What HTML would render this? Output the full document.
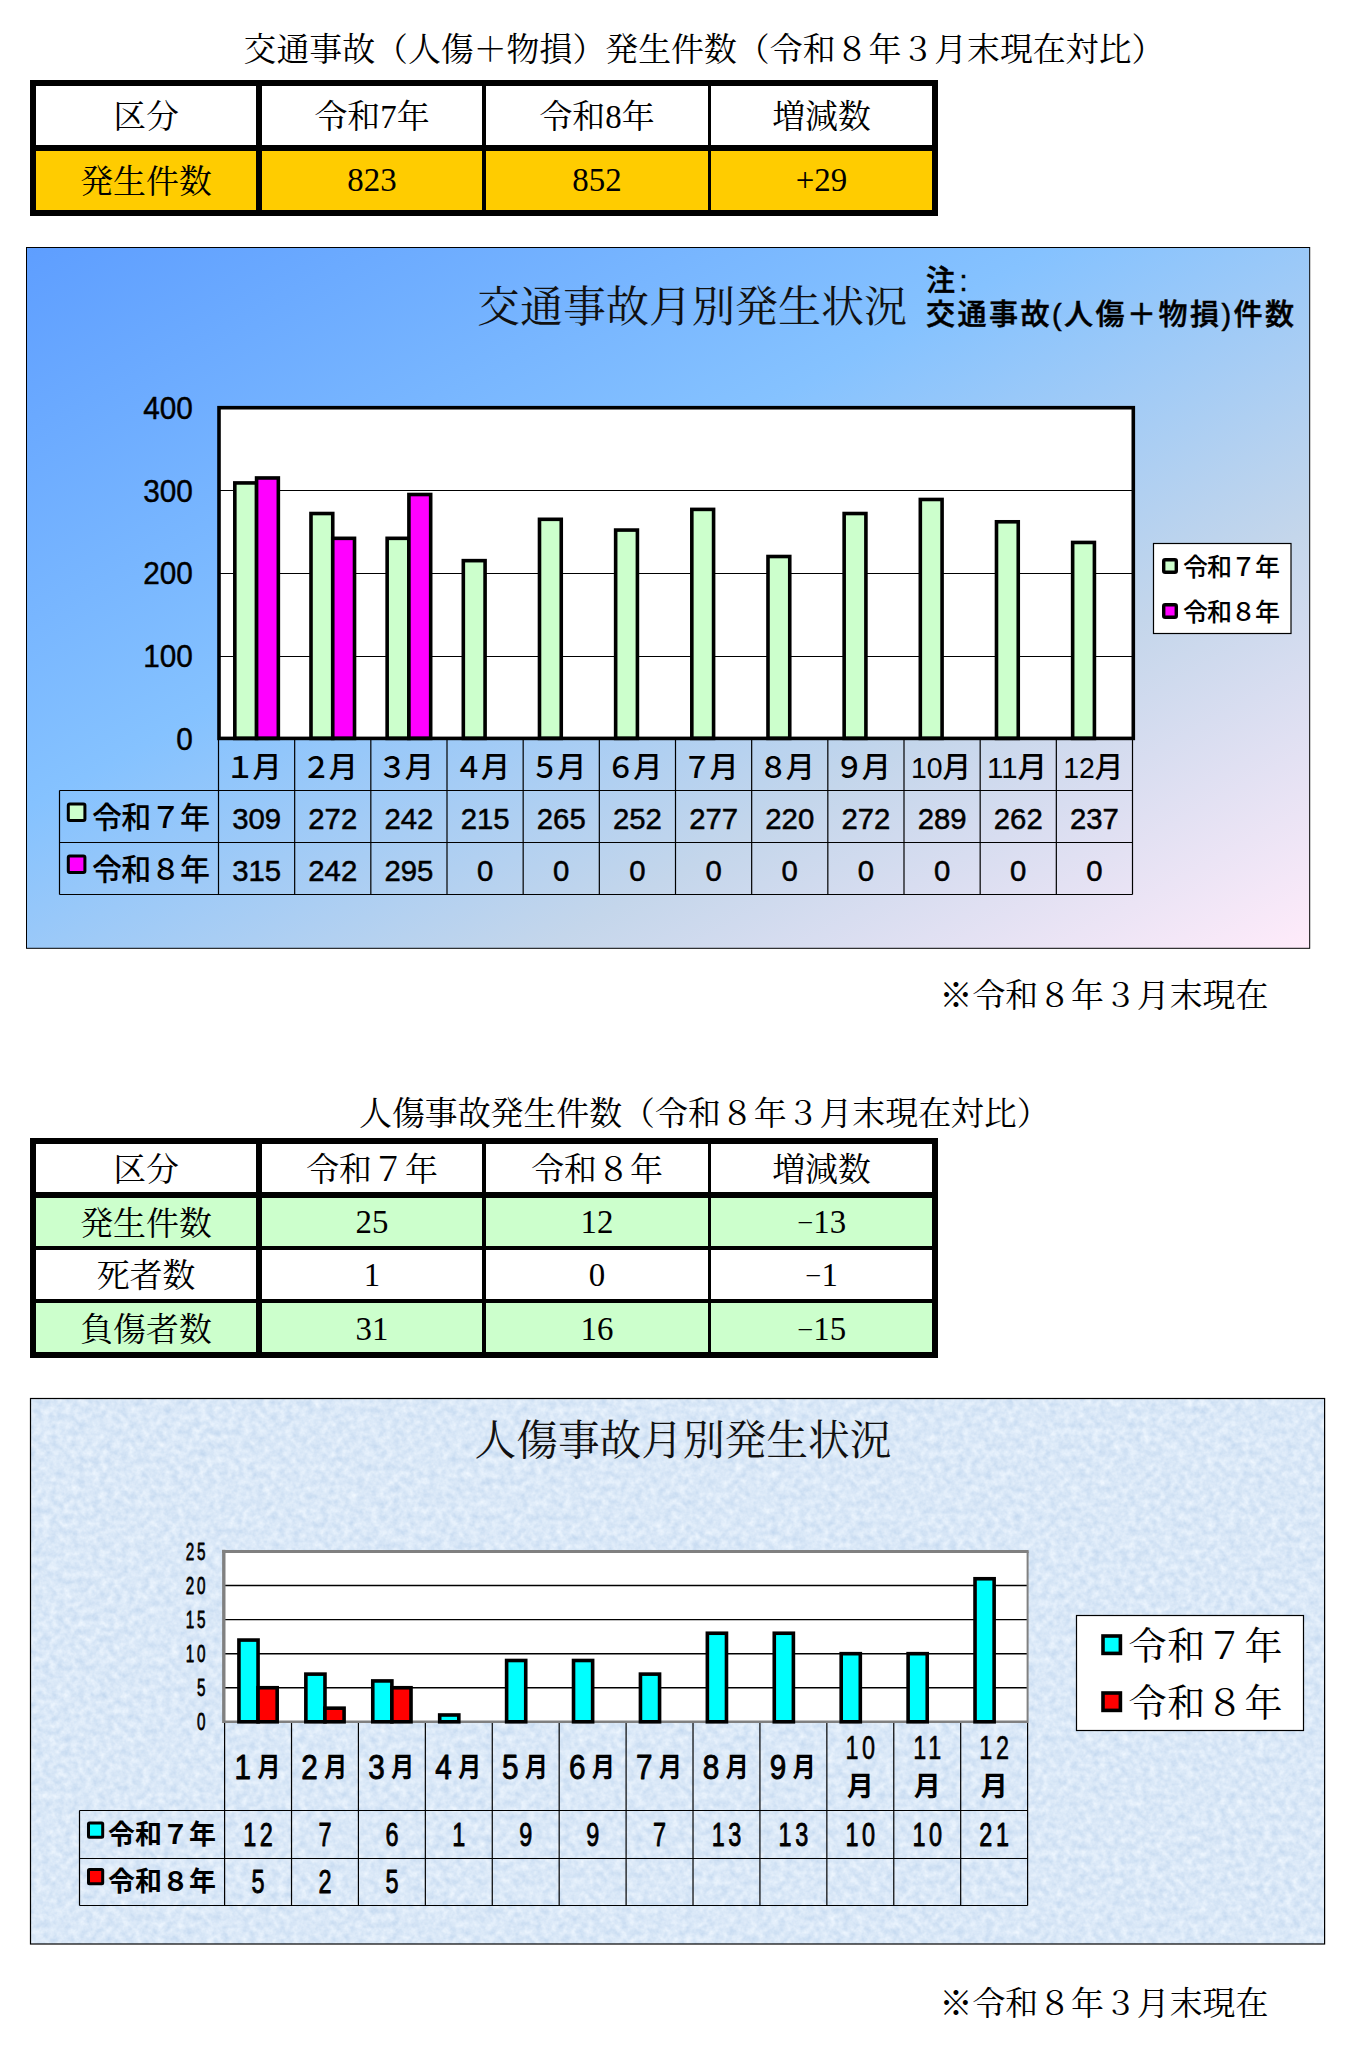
<!DOCTYPE html>
<html lang="ja"><head><meta charset="utf-8">
<title>交通事故発生状況</title>
<style>
html,body{margin:0;padding:0;background:#fff;}
body{width:1358px;height:2049px;position:relative;overflow:hidden;}
.min{font-family:"Liberation Serif","Noto Serif CJK SC",serif;}
.got{font-family:"Liberation Sans","Noto Sans CJK JP",sans-serif;}
.ttl{position:absolute;white-space:nowrap;color:#000;font-family:"Liberation Serif","Noto Serif CJK SC",serif;font-size:32.9px;line-height:40px;}
table.t{position:absolute;border-collapse:separate;border-spacing:0;table-layout:fixed;font-family:"Liberation Serif","Noto Serif CJK SC",serif;font-size:32.9px;color:#000;}
table.t td{box-sizing:border-box;padding:0;text-align:center;vertical-align:middle;border:0 solid #000;line-height:40px;overflow:hidden;white-space:nowrap;}
svg{position:absolute;left:0;top:0;}
svg text{white-space:pre;}
.mn{display:inline-block;width:16.4px;text-align:center;transform:translateY(-1.5px) scale(1.55,0.6);}
</style></head><body>
<div class="ttl" style="left:243.5px;top:29.5px;">交通事故（人傷＋物損）発生件数（令和８年３月末現在対比）</div>
<div class="ttl" style="left:359px;top:1093.5px;">人傷事故発生件数（令和８年３月末現在対比）</div>
<div class="ttl" style="left:939.5px;top:976px;">※令和８年３月末現在</div>
<div class="ttl" style="left:939.5px;top:1984px;">※令和８年３月末現在</div>
<table class="t" style="left:30px;top:80px;width:908px;">
<colgroup>
<col style="width:226px">
<col style="width:226px">
<col style="width:226px">
<col style="width:230px">
</colgroup>
<tr style="height:65px">
<td style="border-width:6px 0px 0px 6px;padding-top:3px;">区分</td>
<td style="border-width:6px 0px 0px 6px;padding-top:3px;">令和7年</td>
<td style="border-width:6px 0px 0px 4px;padding-top:3px;">令和8年</td>
<td style="border-width:6px 6px 0px 3px;padding-top:3px;">増減数</td>
</tr>
<tr style="height:71px">
<td style="border-width:6px 0px 6px 6px;background:#ffcc00;padding-top:2.4px;">発生件数</td>
<td style="border-width:6px 0px 6px 6px;background:#ffcc00;padding-bottom:0.6px;">823</td>
<td style="border-width:6px 0px 6px 4px;background:#ffcc00;padding-bottom:0.6px;">852</td>
<td style="border-width:6px 6px 6px 3px;background:#ffcc00;padding-bottom:0.6px;">+29</td>
</tr>
</table>
<table class="t" style="left:30px;top:1138px;width:908px;">
<colgroup>
<col style="width:226px">
<col style="width:226px">
<col style="width:226px">
<col style="width:230px">
</colgroup>
<tr style="height:54px">
<td style="border-width:6px 0px 0px 6px;padding-top:3.6px;">区分</td>
<td style="border-width:6px 0px 0px 6px;padding-top:3.6px;">令和７年</td>
<td style="border-width:6px 0px 0px 4px;padding-top:3.6px;">令和８年</td>
<td style="border-width:6px 6px 0px 3px;padding-top:3.6px;">増減数</td>
</tr>
<tr style="height:54px">
<td style="border-width:6px 0px 0px 6px;background:#ccffcc;padding-top:3px;">発生件数</td>
<td style="border-width:6px 0px 0px 6px;background:#ccffcc;">25</td>
<td style="border-width:6px 0px 0px 4px;background:#ccffcc;">12</td>
<td style="border-width:6px 6px 0px 3px;background:#ccffcc;"><span class="mn">-</span>13</td>
</tr>
<tr style="height:52.5px">
<td style="border-width:4px 0px 0px 6px;padding-top:3.8px;">死者数</td>
<td style="border-width:4px 0px 0px 6px;padding-top:0.8px;">1</td>
<td style="border-width:4px 0px 0px 4px;padding-top:0.8px;">0</td>
<td style="border-width:4px 6px 0px 3px;padding-top:0.8px;"><span class="mn">-</span>1</td>
</tr>
<tr style="height:59.5px">
<td style="border-width:4px 0px 6px 6px;background:#ccffcc;padding-top:6px;">負傷者数</td>
<td style="border-width:4px 0px 6px 6px;background:#ccffcc;padding-top:3px;">31</td>
<td style="border-width:4px 0px 6px 4px;background:#ccffcc;padding-top:3px;">16</td>
<td style="border-width:4px 6px 6px 3px;background:#ccffcc;padding-top:3px;"><span class="mn">-</span>15</td>
</tr>
</table>
<svg width="1358" height="2049" viewBox="0 0 1358 2049">
<defs>
<linearGradient id="g1" gradientUnits="userSpaceOnUse" x1="373.3" y1="58.1" x2="962.9" y2="1137.7">
<stop offset="0" stop-color="#5e9eff"/><stop offset="0.4" stop-color="#85c2ff"/><stop offset="0.7" stop-color="#c4d6eb"/><stop offset="1" stop-color="#ffebfa"/></linearGradient>
<filter id="tex" x="0" y="0" width="100%" height="100%" color-interpolation-filters="sRGB"><feTurbulence type="fractalNoise" baseFrequency="0.14" numOctaves="3" seed="7" result="n"/><feColorMatrix in="n" type="matrix" values="0.2 0 0 0 0.755  0.14 0 0 0 0.84  0.07 0 0 0 0.935  0 0 0 0 1"/></filter>
</defs>
<g id="chart1">
<rect x="26.5" y="247.5" width="1283.2" height="700.8" fill="url(#g1)" stroke="#000" stroke-width="1"/>
<text x="692" y="322" font-size="43" font-family='"Liberation Serif","Noto Serif CJK SC",serif' text-anchor="middle" fill="#111">交通事故月別発生状況</text>
<text x="926" y="290.5" font-size="29" font-family='"Liberation Sans","Noto Sans CJK JP",sans-serif' text-anchor="start" font-weight="500" stroke="#000" stroke-width="0.5">注<tspan dx="4.5">:</tspan></text>
<text x="926" y="324.5" font-size="29" font-family='"Liberation Sans","Noto Sans CJK JP",sans-serif' text-anchor="start" font-weight="500" textLength="368" lengthAdjust="spacing" stroke="#000" stroke-width="0.5">交通事故(人傷＋物損)件数</text>
<rect x="219" y="407.7" width="914.3" height="330.7" fill="#fff"/>
<line x1="219" y1="656.5" x2="1133.3" y2="656.5" stroke="#000" stroke-width="1.1"/>
<line x1="219" y1="573.5" x2="1133.3" y2="573.5" stroke="#000" stroke-width="1.1"/>
<line x1="219" y1="490.5" x2="1133.3" y2="490.5" stroke="#000" stroke-width="1.1"/>
<rect x="234.82" y="482.93" width="21.76" height="255.47" fill="#ccffcc" stroke="#000" stroke-width="3.6"/>
<rect x="256.58" y="477.97" width="21.76" height="260.43" fill="#ff00ff" stroke="#000" stroke-width="3.6"/>
<rect x="310.99" y="513.52" width="21.76" height="224.88" fill="#ccffcc" stroke="#000" stroke-width="3.6"/>
<rect x="332.75" y="538.33" width="21.76" height="200.07" fill="#ff00ff" stroke="#000" stroke-width="3.6"/>
<rect x="387.15" y="538.33" width="21.76" height="200.07" fill="#ccffcc" stroke="#000" stroke-width="3.6"/>
<rect x="408.92" y="494.51" width="21.76" height="243.89" fill="#ff00ff" stroke="#000" stroke-width="3.6"/>
<rect x="463.32" y="560.65" width="21.76" height="177.75" fill="#ccffcc" stroke="#000" stroke-width="3.6"/>
<rect x="539.49" y="519.31" width="21.76" height="219.09" fill="#ccffcc" stroke="#000" stroke-width="3.6"/>
<rect x="615.65" y="530.06" width="21.76" height="208.34" fill="#ccffcc" stroke="#000" stroke-width="3.6"/>
<rect x="691.82" y="509.39" width="21.76" height="229.01" fill="#ccffcc" stroke="#000" stroke-width="3.6"/>
<rect x="767.99" y="556.51" width="21.76" height="181.88" fill="#ccffcc" stroke="#000" stroke-width="3.6"/>
<rect x="844.15" y="513.52" width="21.76" height="224.88" fill="#ccffcc" stroke="#000" stroke-width="3.6"/>
<rect x="920.32" y="499.47" width="21.76" height="238.93" fill="#ccffcc" stroke="#000" stroke-width="3.6"/>
<rect x="996.49" y="521.79" width="21.76" height="216.61" fill="#ccffcc" stroke="#000" stroke-width="3.6"/>
<rect x="1072.65" y="542.46" width="21.76" height="195.94" fill="#ccffcc" stroke="#000" stroke-width="3.6"/>
<rect x="219" y="407.7" width="914.3" height="330.7" fill="none" stroke="#000" stroke-width="3.6"/>
<text transform="translate(192.8 749.7) scale(0.93 1)" font-size="32" font-family='"Liberation Sans","Noto Sans CJK JP",sans-serif' text-anchor="end" letter-spacing="0" stroke="#000" stroke-width="0.45" stroke-linejoin="round">0</text>
<text transform="translate(192.8 667.02) scale(0.93 1)" font-size="32" font-family='"Liberation Sans","Noto Sans CJK JP",sans-serif' text-anchor="end" letter-spacing="0" stroke="#000" stroke-width="0.45" stroke-linejoin="round">100</text>
<text transform="translate(192.8 584.35) scale(0.93 1)" font-size="32" font-family='"Liberation Sans","Noto Sans CJK JP",sans-serif' text-anchor="end" letter-spacing="0" stroke="#000" stroke-width="0.45" stroke-linejoin="round">200</text>
<text transform="translate(192.8 501.68) scale(0.93 1)" font-size="32" font-family='"Liberation Sans","Noto Sans CJK JP",sans-serif' text-anchor="end" letter-spacing="0" stroke="#000" stroke-width="0.45" stroke-linejoin="round">300</text>
<text transform="translate(192.8 419) scale(0.93 1)" font-size="32" font-family='"Liberation Sans","Noto Sans CJK JP",sans-serif' text-anchor="end" letter-spacing="0" stroke="#000" stroke-width="0.45" stroke-linejoin="round">400</text>
<line x1="218.5" y1="740" x2="218.5" y2="894.5" stroke="#000" stroke-width="1.2"/>
<line x1="294.67" y1="740" x2="294.67" y2="894.5" stroke="#000" stroke-width="1.2"/>
<line x1="370.83" y1="740" x2="370.83" y2="894.5" stroke="#000" stroke-width="1.2"/>
<line x1="447" y1="740" x2="447" y2="894.5" stroke="#000" stroke-width="1.2"/>
<line x1="523.17" y1="740" x2="523.17" y2="894.5" stroke="#000" stroke-width="1.2"/>
<line x1="599.33" y1="740" x2="599.33" y2="894.5" stroke="#000" stroke-width="1.2"/>
<line x1="675.5" y1="740" x2="675.5" y2="894.5" stroke="#000" stroke-width="1.2"/>
<line x1="751.67" y1="740" x2="751.67" y2="894.5" stroke="#000" stroke-width="1.2"/>
<line x1="827.83" y1="740" x2="827.83" y2="894.5" stroke="#000" stroke-width="1.2"/>
<line x1="904" y1="740" x2="904" y2="894.5" stroke="#000" stroke-width="1.2"/>
<line x1="980.17" y1="740" x2="980.17" y2="894.5" stroke="#000" stroke-width="1.2"/>
<line x1="1056.33" y1="740" x2="1056.33" y2="894.5" stroke="#000" stroke-width="1.2"/>
<line x1="1132.5" y1="740" x2="1132.5" y2="894.5" stroke="#000" stroke-width="1.2"/>
<line x1="59.5" y1="790.5" x2="1132.5" y2="790.5" stroke="#000" stroke-width="1.2"/>
<line x1="59.5" y1="842.5" x2="1132.5" y2="842.5" stroke="#000" stroke-width="1.2"/>
<line x1="59.5" y1="894.5" x2="1132.5" y2="894.5" stroke="#000" stroke-width="1.2"/>
<line x1="59.5" y1="790.5" x2="59.5" y2="894.5" stroke="#000" stroke-width="1.2"/>
<text font-size="29" font-family='"Liberation Sans","Noto Sans CJK JP",sans-serif' font-weight="500" text-anchor="middle"><tspan x="239.98" y="777.7">１</tspan><tspan x="266.98" y="777.7">月</tspan></text>
<text x="256.58" y="828.5" font-size="29.3" font-family='"Liberation Sans","Noto Sans CJK JP",sans-serif' text-anchor="middle" stroke="#000" stroke-width="0.5">309</text>
<text x="256.58" y="880.5" font-size="29.3" font-family='"Liberation Sans","Noto Sans CJK JP",sans-serif' text-anchor="middle" stroke="#000" stroke-width="0.5">315</text>
<text font-size="29" font-family='"Liberation Sans","Noto Sans CJK JP",sans-serif' font-weight="500" text-anchor="middle"><tspan x="316.15" y="777.7">２</tspan><tspan x="343.15" y="777.7">月</tspan></text>
<text x="332.75" y="828.5" font-size="29.3" font-family='"Liberation Sans","Noto Sans CJK JP",sans-serif' text-anchor="middle" stroke="#000" stroke-width="0.5">272</text>
<text x="332.75" y="880.5" font-size="29.3" font-family='"Liberation Sans","Noto Sans CJK JP",sans-serif' text-anchor="middle" stroke="#000" stroke-width="0.5">242</text>
<text font-size="29" font-family='"Liberation Sans","Noto Sans CJK JP",sans-serif' font-weight="500" text-anchor="middle"><tspan x="392.32" y="777.7">３</tspan><tspan x="419.32" y="777.7">月</tspan></text>
<text x="408.92" y="828.5" font-size="29.3" font-family='"Liberation Sans","Noto Sans CJK JP",sans-serif' text-anchor="middle" stroke="#000" stroke-width="0.5">242</text>
<text x="408.92" y="880.5" font-size="29.3" font-family='"Liberation Sans","Noto Sans CJK JP",sans-serif' text-anchor="middle" stroke="#000" stroke-width="0.5">295</text>
<text font-size="29" font-family='"Liberation Sans","Noto Sans CJK JP",sans-serif' font-weight="500" text-anchor="middle"><tspan x="468.48" y="777.7">４</tspan><tspan x="495.48" y="777.7">月</tspan></text>
<text x="485.08" y="828.5" font-size="29.3" font-family='"Liberation Sans","Noto Sans CJK JP",sans-serif' text-anchor="middle" stroke="#000" stroke-width="0.5">215</text>
<text x="485.08" y="880.5" font-size="29.3" font-family='"Liberation Sans","Noto Sans CJK JP",sans-serif' text-anchor="middle" stroke="#000" stroke-width="0.5">0</text>
<text font-size="29" font-family='"Liberation Sans","Noto Sans CJK JP",sans-serif' font-weight="500" text-anchor="middle"><tspan x="544.65" y="777.7">５</tspan><tspan x="571.65" y="777.7">月</tspan></text>
<text x="561.25" y="828.5" font-size="29.3" font-family='"Liberation Sans","Noto Sans CJK JP",sans-serif' text-anchor="middle" stroke="#000" stroke-width="0.5">265</text>
<text x="561.25" y="880.5" font-size="29.3" font-family='"Liberation Sans","Noto Sans CJK JP",sans-serif' text-anchor="middle" stroke="#000" stroke-width="0.5">0</text>
<text font-size="29" font-family='"Liberation Sans","Noto Sans CJK JP",sans-serif' font-weight="500" text-anchor="middle"><tspan x="620.82" y="777.7">６</tspan><tspan x="647.82" y="777.7">月</tspan></text>
<text x="637.42" y="828.5" font-size="29.3" font-family='"Liberation Sans","Noto Sans CJK JP",sans-serif' text-anchor="middle" stroke="#000" stroke-width="0.5">252</text>
<text x="637.42" y="880.5" font-size="29.3" font-family='"Liberation Sans","Noto Sans CJK JP",sans-serif' text-anchor="middle" stroke="#000" stroke-width="0.5">0</text>
<text font-size="29" font-family='"Liberation Sans","Noto Sans CJK JP",sans-serif' font-weight="500" text-anchor="middle"><tspan x="696.98" y="777.7">７</tspan><tspan x="723.98" y="777.7">月</tspan></text>
<text x="713.58" y="828.5" font-size="29.3" font-family='"Liberation Sans","Noto Sans CJK JP",sans-serif' text-anchor="middle" stroke="#000" stroke-width="0.5">277</text>
<text x="713.58" y="880.5" font-size="29.3" font-family='"Liberation Sans","Noto Sans CJK JP",sans-serif' text-anchor="middle" stroke="#000" stroke-width="0.5">0</text>
<text font-size="29" font-family='"Liberation Sans","Noto Sans CJK JP",sans-serif' font-weight="500" text-anchor="middle"><tspan x="773.15" y="777.7">８</tspan><tspan x="800.15" y="777.7">月</tspan></text>
<text x="789.75" y="828.5" font-size="29.3" font-family='"Liberation Sans","Noto Sans CJK JP",sans-serif' text-anchor="middle" stroke="#000" stroke-width="0.5">220</text>
<text x="789.75" y="880.5" font-size="29.3" font-family='"Liberation Sans","Noto Sans CJK JP",sans-serif' text-anchor="middle" stroke="#000" stroke-width="0.5">0</text>
<text font-size="29" font-family='"Liberation Sans","Noto Sans CJK JP",sans-serif' font-weight="500" text-anchor="middle"><tspan x="849.32" y="777.7">９</tspan><tspan x="876.32" y="777.7">月</tspan></text>
<text x="865.92" y="828.5" font-size="29.3" font-family='"Liberation Sans","Noto Sans CJK JP",sans-serif' text-anchor="middle" stroke="#000" stroke-width="0.5">272</text>
<text x="865.92" y="880.5" font-size="29.3" font-family='"Liberation Sans","Noto Sans CJK JP",sans-serif' text-anchor="middle" stroke="#000" stroke-width="0.5">0</text>
<text x="940.88" y="777.7" font-size="29" font-family='"Liberation Sans","Noto Sans CJK JP",sans-serif' text-anchor="middle" font-weight="500" textLength="60" lengthAdjust="spacingAndGlyphs">10月</text>
<text x="942.08" y="828.5" font-size="29.3" font-family='"Liberation Sans","Noto Sans CJK JP",sans-serif' text-anchor="middle" stroke="#000" stroke-width="0.5">289</text>
<text x="942.08" y="880.5" font-size="29.3" font-family='"Liberation Sans","Noto Sans CJK JP",sans-serif' text-anchor="middle" stroke="#000" stroke-width="0.5">0</text>
<text x="1017.05" y="777.7" font-size="29" font-family='"Liberation Sans","Noto Sans CJK JP",sans-serif' text-anchor="middle" font-weight="500" textLength="60" lengthAdjust="spacingAndGlyphs">11月</text>
<text x="1018.25" y="828.5" font-size="29.3" font-family='"Liberation Sans","Noto Sans CJK JP",sans-serif' text-anchor="middle" stroke="#000" stroke-width="0.5">262</text>
<text x="1018.25" y="880.5" font-size="29.3" font-family='"Liberation Sans","Noto Sans CJK JP",sans-serif' text-anchor="middle" stroke="#000" stroke-width="0.5">0</text>
<text x="1093.22" y="777.7" font-size="29" font-family='"Liberation Sans","Noto Sans CJK JP",sans-serif' text-anchor="middle" font-weight="500" textLength="60" lengthAdjust="spacingAndGlyphs">12月</text>
<text x="1094.42" y="828.5" font-size="29.3" font-family='"Liberation Sans","Noto Sans CJK JP",sans-serif' text-anchor="middle" stroke="#000" stroke-width="0.5">237</text>
<text x="1094.42" y="880.5" font-size="29.3" font-family='"Liberation Sans","Noto Sans CJK JP",sans-serif' text-anchor="middle" stroke="#000" stroke-width="0.5">0</text>
<rect x="68.3" y="804" width="16.6" height="16.6" rx="1.5" fill="#ccffcc" stroke="#000" stroke-width="3"/>
<text x="92" y="828" font-size="30" font-family='"Liberation Sans","Noto Sans CJK JP",sans-serif' text-anchor="start" font-weight="500" textLength="118" lengthAdjust="spacing">令和７年</text>
<rect x="68.3" y="856" width="16.6" height="16.6" rx="1.5" fill="#ff00ff" stroke="#000" stroke-width="3"/>
<text x="92" y="880" font-size="30" font-family='"Liberation Sans","Noto Sans CJK JP",sans-serif' text-anchor="start" font-weight="500" textLength="118" lengthAdjust="spacing">令和８年</text>
<rect x="1153.5" y="543.5" width="137.5" height="90" fill="#fff" stroke="#000" stroke-width="1.2"/>
<rect x="1163.7" y="559.7" width="12.6" height="12.6" rx="1.5" fill="#ccffcc" stroke="#000" stroke-width="3.4"/>
<text x="1183" y="575.5" font-size="25" font-family='"Liberation Sans","Noto Sans CJK JP",sans-serif' text-anchor="start" font-weight="500" textLength="97" lengthAdjust="spacing">令和７年</text>
<rect x="1163.7" y="604.7" width="12.6" height="12.6" rx="1.5" fill="#ff00ff" stroke="#000" stroke-width="3.4"/>
<text x="1183" y="620.5" font-size="25" font-family='"Liberation Sans","Noto Sans CJK JP",sans-serif' text-anchor="start" font-weight="500" textLength="97" lengthAdjust="spacing">令和８年</text>
</g>
<g id="chart2">
<rect x="30.5" y="1398.5" width="1294.1" height="545.5" fill="#d5e4f5"/>
<rect x="30.5" y="1398.5" width="1294.1" height="545.5" filter="url(#tex)"/>
<rect x="30.5" y="1398.5" width="1294.1" height="545.5" fill="none" stroke="#000" stroke-width="1.2"/>
<text x="683" y="1455" font-size="41.7" font-family='"Liberation Serif","Noto Serif CJK SC",serif' text-anchor="middle" fill="#111">人傷事故月別発生状況</text>
<rect x="223.8" y="1551.5" width="803.8" height="170.3" fill="#fff"/>
<line x1="223.8" y1="1687.74" x2="1027.6" y2="1687.74" stroke="#000" stroke-width="1.4"/>
<line x1="223.8" y1="1653.68" x2="1027.6" y2="1653.68" stroke="#000" stroke-width="1.4"/>
<line x1="223.8" y1="1619.62" x2="1027.6" y2="1619.62" stroke="#000" stroke-width="1.4"/>
<line x1="223.8" y1="1585.56" x2="1027.6" y2="1585.56" stroke="#000" stroke-width="1.4"/>
<line x1="223.8" y1="1549.8" x2="223.8" y2="1723" stroke="#808080" stroke-width="3.4"/>
<line x1="222.1" y1="1551.5" x2="1028.6" y2="1551.5" stroke="#808080" stroke-width="3"/>
<line x1="1027.6" y1="1551.5" x2="1027.6" y2="1723" stroke="#808080" stroke-width="2"/>
<line x1="223.8" y1="1721.8" x2="1027.6" y2="1721.8" stroke="#808080" stroke-width="2.4"/>
<rect x="238.94" y="1640.06" width="19.12" height="81.74" fill="#00ffff" stroke="#000" stroke-width="3.6"/>
<rect x="258.06" y="1687.74" width="19.12" height="34.06" fill="#ff0000" stroke="#000" stroke-width="3.6"/>
<rect x="305.86" y="1674.12" width="19.12" height="47.68" fill="#00ffff" stroke="#000" stroke-width="3.6"/>
<rect x="324.97" y="1708.18" width="19.12" height="13.62" fill="#ff0000" stroke="#000" stroke-width="3.6"/>
<rect x="372.77" y="1680.93" width="19.12" height="40.87" fill="#00ffff" stroke="#000" stroke-width="3.6"/>
<rect x="391.89" y="1687.74" width="19.12" height="34.06" fill="#ff0000" stroke="#000" stroke-width="3.6"/>
<rect x="439.69" y="1714.99" width="19.12" height="6.81" fill="#00ffff" stroke="#000" stroke-width="3.6"/>
<rect x="506.61" y="1660.49" width="19.12" height="61.31" fill="#00ffff" stroke="#000" stroke-width="3.6"/>
<rect x="573.52" y="1660.49" width="19.12" height="61.31" fill="#00ffff" stroke="#000" stroke-width="3.6"/>
<rect x="640.44" y="1674.12" width="19.12" height="47.68" fill="#00ffff" stroke="#000" stroke-width="3.6"/>
<rect x="707.36" y="1633.24" width="19.12" height="88.56" fill="#00ffff" stroke="#000" stroke-width="3.6"/>
<rect x="774.27" y="1633.24" width="19.12" height="88.56" fill="#00ffff" stroke="#000" stroke-width="3.6"/>
<rect x="841.19" y="1653.68" width="19.12" height="68.12" fill="#00ffff" stroke="#000" stroke-width="3.6"/>
<rect x="908.11" y="1653.68" width="19.12" height="68.12" fill="#00ffff" stroke="#000" stroke-width="3.6"/>
<rect x="975.02" y="1578.75" width="19.12" height="143.05" fill="#00ffff" stroke="#000" stroke-width="3.6"/>
<text transform="translate(208.4 1730.4) scale(0.62 1)" font-size="24.6" font-family='"Liberation Sans","Noto Sans CJK JP",sans-serif' text-anchor="end" letter-spacing="4.68" stroke="#000" stroke-width="0.8" stroke-linejoin="round">0</text>
<text transform="translate(208.4 1696.34) scale(0.62 1)" font-size="24.6" font-family='"Liberation Sans","Noto Sans CJK JP",sans-serif' text-anchor="end" letter-spacing="4.68" stroke="#000" stroke-width="0.8" stroke-linejoin="round">5</text>
<text transform="translate(208.4 1662.28) scale(0.62 1)" font-size="24.6" font-family='"Liberation Sans","Noto Sans CJK JP",sans-serif' text-anchor="end" letter-spacing="4.68" stroke="#000" stroke-width="0.8" stroke-linejoin="round">10</text>
<text transform="translate(208.4 1628.22) scale(0.62 1)" font-size="24.6" font-family='"Liberation Sans","Noto Sans CJK JP",sans-serif' text-anchor="end" letter-spacing="4.68" stroke="#000" stroke-width="0.8" stroke-linejoin="round">15</text>
<text transform="translate(208.4 1594.16) scale(0.62 1)" font-size="24.6" font-family='"Liberation Sans","Noto Sans CJK JP",sans-serif' text-anchor="end" letter-spacing="4.68" stroke="#000" stroke-width="0.8" stroke-linejoin="round">20</text>
<text transform="translate(208.4 1560.1) scale(0.62 1)" font-size="24.6" font-family='"Liberation Sans","Noto Sans CJK JP",sans-serif' text-anchor="end" letter-spacing="4.68" stroke="#000" stroke-width="0.8" stroke-linejoin="round">25</text>
<line x1="224.6" y1="1723" x2="224.6" y2="1905.5" stroke="#000" stroke-width="1.2"/>
<line x1="291.52" y1="1723" x2="291.52" y2="1905.5" stroke="#000" stroke-width="1.2"/>
<line x1="358.43" y1="1723" x2="358.43" y2="1905.5" stroke="#000" stroke-width="1.2"/>
<line x1="425.35" y1="1723" x2="425.35" y2="1905.5" stroke="#000" stroke-width="1.2"/>
<line x1="492.27" y1="1723" x2="492.27" y2="1905.5" stroke="#000" stroke-width="1.2"/>
<line x1="559.18" y1="1723" x2="559.18" y2="1905.5" stroke="#000" stroke-width="1.2"/>
<line x1="626.1" y1="1723" x2="626.1" y2="1905.5" stroke="#000" stroke-width="1.2"/>
<line x1="693.02" y1="1723" x2="693.02" y2="1905.5" stroke="#000" stroke-width="1.2"/>
<line x1="759.93" y1="1723" x2="759.93" y2="1905.5" stroke="#000" stroke-width="1.2"/>
<line x1="826.85" y1="1723" x2="826.85" y2="1905.5" stroke="#000" stroke-width="1.2"/>
<line x1="893.77" y1="1723" x2="893.77" y2="1905.5" stroke="#000" stroke-width="1.2"/>
<line x1="960.68" y1="1723" x2="960.68" y2="1905.5" stroke="#000" stroke-width="1.2"/>
<line x1="1027.6" y1="1723" x2="1027.6" y2="1905.5" stroke="#000" stroke-width="1.2"/>
<line x1="79.5" y1="1810.5" x2="1027.6" y2="1810.5" stroke="#000" stroke-width="1.2"/>
<line x1="79.5" y1="1858.5" x2="1027.6" y2="1858.5" stroke="#000" stroke-width="1.2"/>
<line x1="79.5" y1="1905.5" x2="1027.6" y2="1905.5" stroke="#000" stroke-width="1.2"/>
<line x1="79.5" y1="1810.5" x2="79.5" y2="1905.5" stroke="#000" stroke-width="1.2"/>
<text transform="translate(242.66 1779) scale(0.86 1)" font-size="34.5" font-family='"Liberation Sans","Noto Sans CJK JP",sans-serif' text-anchor="middle" letter-spacing="0" stroke="#000" stroke-width="0.9" stroke-linejoin="round">1</text>
<text transform="translate(268.76 1777.3) scale(0.86 1)" font-size="27" font-family='"Liberation Sans","Noto Sans CJK JP",sans-serif' text-anchor="middle" letter-spacing="0" font-weight="700">月</text>
<text transform="translate(259.86 1845.6) scale(0.7 1)" font-size="33.5" font-family='"Liberation Sans","Noto Sans CJK JP",sans-serif' text-anchor="middle" letter-spacing="5.14" stroke="#000" stroke-width="0.9" stroke-linejoin="round">12</text>
<text transform="translate(259.86 1892.8) scale(0.7 1)" font-size="33.5" font-family='"Liberation Sans","Noto Sans CJK JP",sans-serif' text-anchor="middle" letter-spacing="5.14" stroke="#000" stroke-width="0.9" stroke-linejoin="round">5</text>
<text transform="translate(309.57 1779) scale(0.86 1)" font-size="34.5" font-family='"Liberation Sans","Noto Sans CJK JP",sans-serif' text-anchor="middle" letter-spacing="0" stroke="#000" stroke-width="0.9" stroke-linejoin="round">2</text>
<text transform="translate(335.67 1777.3) scale(0.86 1)" font-size="27" font-family='"Liberation Sans","Noto Sans CJK JP",sans-serif' text-anchor="middle" letter-spacing="0" font-weight="700">月</text>
<text transform="translate(326.77 1845.6) scale(0.7 1)" font-size="33.5" font-family='"Liberation Sans","Noto Sans CJK JP",sans-serif' text-anchor="middle" letter-spacing="5.14" stroke="#000" stroke-width="0.9" stroke-linejoin="round">7</text>
<text transform="translate(326.77 1892.8) scale(0.7 1)" font-size="33.5" font-family='"Liberation Sans","Noto Sans CJK JP",sans-serif' text-anchor="middle" letter-spacing="5.14" stroke="#000" stroke-width="0.9" stroke-linejoin="round">2</text>
<text transform="translate(376.49 1779) scale(0.86 1)" font-size="34.5" font-family='"Liberation Sans","Noto Sans CJK JP",sans-serif' text-anchor="middle" letter-spacing="0" stroke="#000" stroke-width="0.9" stroke-linejoin="round">3</text>
<text transform="translate(402.59 1777.3) scale(0.86 1)" font-size="27" font-family='"Liberation Sans","Noto Sans CJK JP",sans-serif' text-anchor="middle" letter-spacing="0" font-weight="700">月</text>
<text transform="translate(393.69 1845.6) scale(0.7 1)" font-size="33.5" font-family='"Liberation Sans","Noto Sans CJK JP",sans-serif' text-anchor="middle" letter-spacing="5.14" stroke="#000" stroke-width="0.9" stroke-linejoin="round">6</text>
<text transform="translate(393.69 1892.8) scale(0.7 1)" font-size="33.5" font-family='"Liberation Sans","Noto Sans CJK JP",sans-serif' text-anchor="middle" letter-spacing="5.14" stroke="#000" stroke-width="0.9" stroke-linejoin="round">5</text>
<text transform="translate(443.41 1779) scale(0.86 1)" font-size="34.5" font-family='"Liberation Sans","Noto Sans CJK JP",sans-serif' text-anchor="middle" letter-spacing="0" stroke="#000" stroke-width="0.9" stroke-linejoin="round">4</text>
<text transform="translate(469.51 1777.3) scale(0.86 1)" font-size="27" font-family='"Liberation Sans","Noto Sans CJK JP",sans-serif' text-anchor="middle" letter-spacing="0" font-weight="700">月</text>
<text transform="translate(460.61 1845.6) scale(0.7 1)" font-size="33.5" font-family='"Liberation Sans","Noto Sans CJK JP",sans-serif' text-anchor="middle" letter-spacing="5.14" stroke="#000" stroke-width="0.9" stroke-linejoin="round">1</text>
<text transform="translate(510.32 1779) scale(0.86 1)" font-size="34.5" font-family='"Liberation Sans","Noto Sans CJK JP",sans-serif' text-anchor="middle" letter-spacing="0" stroke="#000" stroke-width="0.9" stroke-linejoin="round">5</text>
<text transform="translate(536.42 1777.3) scale(0.86 1)" font-size="27" font-family='"Liberation Sans","Noto Sans CJK JP",sans-serif' text-anchor="middle" letter-spacing="0" font-weight="700">月</text>
<text transform="translate(527.52 1845.6) scale(0.7 1)" font-size="33.5" font-family='"Liberation Sans","Noto Sans CJK JP",sans-serif' text-anchor="middle" letter-spacing="5.14" stroke="#000" stroke-width="0.9" stroke-linejoin="round">9</text>
<text transform="translate(577.24 1779) scale(0.86 1)" font-size="34.5" font-family='"Liberation Sans","Noto Sans CJK JP",sans-serif' text-anchor="middle" letter-spacing="0" stroke="#000" stroke-width="0.9" stroke-linejoin="round">6</text>
<text transform="translate(603.34 1777.3) scale(0.86 1)" font-size="27" font-family='"Liberation Sans","Noto Sans CJK JP",sans-serif' text-anchor="middle" letter-spacing="0" font-weight="700">月</text>
<text transform="translate(594.44 1845.6) scale(0.7 1)" font-size="33.5" font-family='"Liberation Sans","Noto Sans CJK JP",sans-serif' text-anchor="middle" letter-spacing="5.14" stroke="#000" stroke-width="0.9" stroke-linejoin="round">9</text>
<text transform="translate(644.16 1779) scale(0.86 1)" font-size="34.5" font-family='"Liberation Sans","Noto Sans CJK JP",sans-serif' text-anchor="middle" letter-spacing="0" stroke="#000" stroke-width="0.9" stroke-linejoin="round">7</text>
<text transform="translate(670.26 1777.3) scale(0.86 1)" font-size="27" font-family='"Liberation Sans","Noto Sans CJK JP",sans-serif' text-anchor="middle" letter-spacing="0" font-weight="700">月</text>
<text transform="translate(661.36 1845.6) scale(0.7 1)" font-size="33.5" font-family='"Liberation Sans","Noto Sans CJK JP",sans-serif' text-anchor="middle" letter-spacing="5.14" stroke="#000" stroke-width="0.9" stroke-linejoin="round">7</text>
<text transform="translate(711.07 1779) scale(0.86 1)" font-size="34.5" font-family='"Liberation Sans","Noto Sans CJK JP",sans-serif' text-anchor="middle" letter-spacing="0" stroke="#000" stroke-width="0.9" stroke-linejoin="round">8</text>
<text transform="translate(737.17 1777.3) scale(0.86 1)" font-size="27" font-family='"Liberation Sans","Noto Sans CJK JP",sans-serif' text-anchor="middle" letter-spacing="0" font-weight="700">月</text>
<text transform="translate(728.27 1845.6) scale(0.7 1)" font-size="33.5" font-family='"Liberation Sans","Noto Sans CJK JP",sans-serif' text-anchor="middle" letter-spacing="5.14" stroke="#000" stroke-width="0.9" stroke-linejoin="round">13</text>
<text transform="translate(777.99 1779) scale(0.86 1)" font-size="34.5" font-family='"Liberation Sans","Noto Sans CJK JP",sans-serif' text-anchor="middle" letter-spacing="0" stroke="#000" stroke-width="0.9" stroke-linejoin="round">9</text>
<text transform="translate(804.09 1777.3) scale(0.86 1)" font-size="27" font-family='"Liberation Sans","Noto Sans CJK JP",sans-serif' text-anchor="middle" letter-spacing="0" font-weight="700">月</text>
<text transform="translate(795.19 1845.6) scale(0.7 1)" font-size="33.5" font-family='"Liberation Sans","Noto Sans CJK JP",sans-serif' text-anchor="middle" letter-spacing="5.14" stroke="#000" stroke-width="0.9" stroke-linejoin="round">13</text>
<text transform="translate(862.11 1759.4) scale(0.7 1)" font-size="33.5" font-family='"Liberation Sans","Noto Sans CJK JP",sans-serif' text-anchor="middle" letter-spacing="5.14" stroke="#000" stroke-width="0.6" stroke-linejoin="round">10</text>
<text x="860.31" y="1795.5" font-size="27" font-family='"Liberation Sans","Noto Sans CJK JP",sans-serif' text-anchor="middle" font-weight="700">月</text>
<text transform="translate(862.11 1845.6) scale(0.7 1)" font-size="33.5" font-family='"Liberation Sans","Noto Sans CJK JP",sans-serif' text-anchor="middle" letter-spacing="5.14" stroke="#000" stroke-width="0.9" stroke-linejoin="round">10</text>
<text transform="translate(929.02 1759.4) scale(0.7 1)" font-size="33.5" font-family='"Liberation Sans","Noto Sans CJK JP",sans-serif' text-anchor="middle" letter-spacing="5.14" stroke="#000" stroke-width="0.6" stroke-linejoin="round">11</text>
<text x="927.22" y="1795.5" font-size="27" font-family='"Liberation Sans","Noto Sans CJK JP",sans-serif' text-anchor="middle" font-weight="700">月</text>
<text transform="translate(929.02 1845.6) scale(0.7 1)" font-size="33.5" font-family='"Liberation Sans","Noto Sans CJK JP",sans-serif' text-anchor="middle" letter-spacing="5.14" stroke="#000" stroke-width="0.9" stroke-linejoin="round">10</text>
<text transform="translate(995.94 1759.4) scale(0.7 1)" font-size="33.5" font-family='"Liberation Sans","Noto Sans CJK JP",sans-serif' text-anchor="middle" letter-spacing="5.14" stroke="#000" stroke-width="0.6" stroke-linejoin="round">12</text>
<text x="994.14" y="1795.5" font-size="27" font-family='"Liberation Sans","Noto Sans CJK JP",sans-serif' text-anchor="middle" font-weight="700">月</text>
<text transform="translate(995.94 1845.6) scale(0.7 1)" font-size="33.5" font-family='"Liberation Sans","Noto Sans CJK JP",sans-serif' text-anchor="middle" letter-spacing="5.14" stroke="#000" stroke-width="0.9" stroke-linejoin="round">21</text>
<rect x="88.5" y="1823" width="14.2" height="14.2" rx="1" fill="#00ffff" stroke="#000" stroke-width="3"/>
<text x="108" y="1843.5" font-size="27" font-family='"Liberation Sans","Noto Sans CJK JP",sans-serif' text-anchor="start" font-weight="700" textLength="108" lengthAdjust="spacing">令和７年</text>
<rect x="88.5" y="1869.5" width="14.2" height="14.2" rx="1" fill="#ff0000" stroke="#000" stroke-width="3"/>
<text x="108" y="1890.5" font-size="27" font-family='"Liberation Sans","Noto Sans CJK JP",sans-serif' text-anchor="start" font-weight="700" textLength="108" lengthAdjust="spacing">令和８年</text>
<rect x="1076.5" y="1615.5" width="227" height="115" fill="#fff" stroke="#000" stroke-width="1.2"/>
<rect x="1103" y="1636" width="17.4" height="17.4" fill="#00ffff" stroke="#000" stroke-width="3.6"/>
<text x="1128.5" y="1658.5" font-size="38" font-family='"Liberation Serif","Noto Serif CJK SC",serif' text-anchor="start" textLength="154" lengthAdjust="spacing">令和７年</text>
<rect x="1103" y="1693" width="17.4" height="17.4" fill="#ff0000" stroke="#000" stroke-width="3.6"/>
<text x="1128.5" y="1716" font-size="38" font-family='"Liberation Serif","Noto Serif CJK SC",serif' text-anchor="start" textLength="154" lengthAdjust="spacing">令和８年</text>
</g>
</svg>
</body></html>
